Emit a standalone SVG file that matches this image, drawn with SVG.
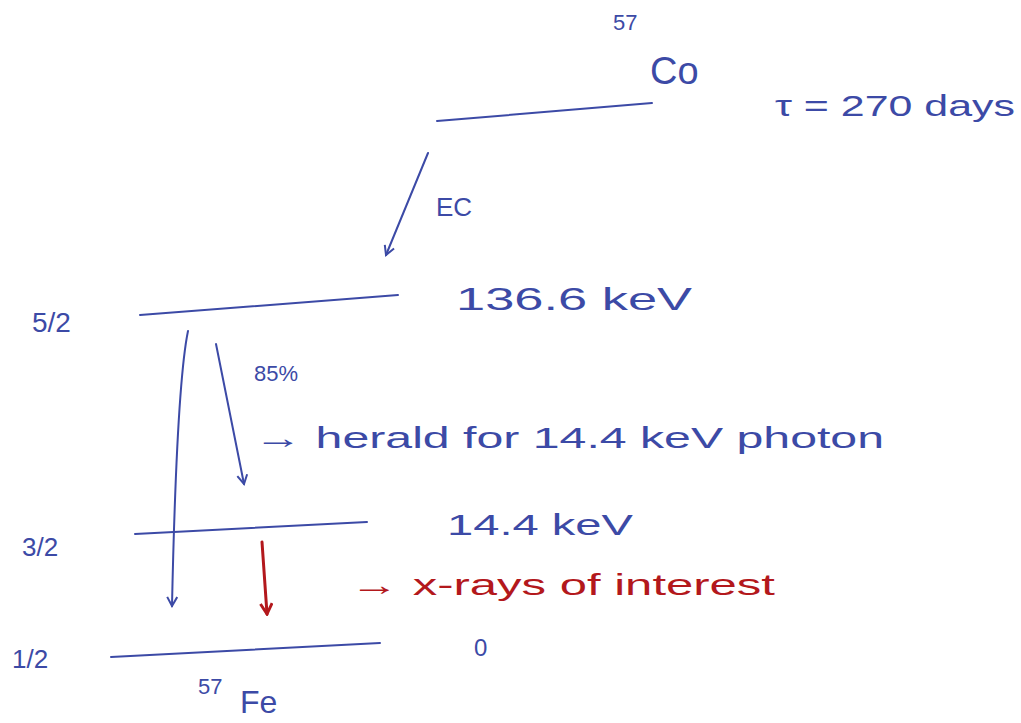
<svg xmlns="http://www.w3.org/2000/svg" width="1021" height="723" viewBox="0 0 1021 723">
<defs>
<style>
.b{fill:#3c4aa6;font-family:"Liberation Sans","DejaVu Sans",sans-serif;}
.r{fill:#b3181c;font-family:"Liberation Sans","DejaVu Sans",sans-serif;}
.ln{stroke:#3c4aa6;stroke-width:2;fill:none;stroke-linecap:round;}
.rl{stroke:#b3181c;stroke-width:3;fill:none;stroke-linecap:round;}
</style>
<marker id="ah" viewBox="0 0 12 12" refX="10" refY="6" markerWidth="12" markerHeight="12" markerUnits="userSpaceOnUse" orient="auto">
<path d="M1,1 L10,6 L1,11" fill="none" stroke="#3c4aa6" stroke-width="2"/>
</marker>
<marker id="ahr" viewBox="0 0 12 12" refX="10" refY="6" markerWidth="14" markerHeight="14" markerUnits="userSpaceOnUse" orient="auto">
<path d="M1,1 L10,6 L1,11" fill="none" stroke="#b3181c" stroke-width="2.5"/>
</marker>
</defs>
<rect width="1021" height="723" fill="#fff"/>
<g id="co57">
<line class="ln" x1="437" y1="121" x2="652" y2="103"/>
<text class="b" x="613" y="30" font-size="22">57</text>
<text class="b" x="650" y="84" font-size="38">Co</text>
<text class="b" x="775" y="116" font-size="30" textLength="240" lengthAdjust="spacingAndGlyphs">τ = 270 days</text>
</g>
<g id="level52">
<line class="ln" x1="140" y1="315" x2="398" y2="295"/>
<text class="b" x="32" y="332" font-size="28">5/2</text>
<text class="b" x="456" y="310" font-size="32" textLength="236" lengthAdjust="spacingAndGlyphs">136.6 keV</text>
</g>
<g id="level32">
<line class="ln" x1="135" y1="534" x2="367" y2="522"/>
<text class="b" x="22" y="556" font-size="26">3/2</text>
<text class="b" x="447" y="535" font-size="30" textLength="186" lengthAdjust="spacingAndGlyphs">14.4 keV</text>
</g>
<g id="level12">
<line class="ln" x1="111" y1="657" x2="380" y2="643"/>
<text class="b" x="12" y="668" font-size="26">1/2</text>
<text class="b" x="474" y="656" font-size="24">0</text>
<text class="b" x="198" y="694" font-size="22">57</text>
<text class="b" x="240" y="713" font-size="32">Fe</text>
</g>
<g id="labels">
<text class="b" x="436" y="216" font-size="26">EC</text>
<text class="b" x="254" y="381" font-size="22">85%</text>
<text class="b" x="254" y="448" font-size="30" textLength="630" lengthAdjust="spacingAndGlyphs">→ herald for 14.4 keV photon</text>
<text class="r" x="350" y="595" font-size="30" textLength="425" lengthAdjust="spacingAndGlyphs">→ x-rays of interest</text>
</g>
<g id="connectors">
<line class="ln" x1="428" y1="153" x2="386" y2="255" marker-end="url(#ah)"/>
<path class="ln" d="M188,331 C182,360 176,420 172,606" marker-end="url(#ah)"/>
<line class="ln" x1="216" y1="344" x2="244" y2="484" marker-end="url(#ah)"/>
<line class="rl" x1="262" y1="542" x2="267" y2="614" marker-end="url(#ahr)"/>
</g>
</svg>
